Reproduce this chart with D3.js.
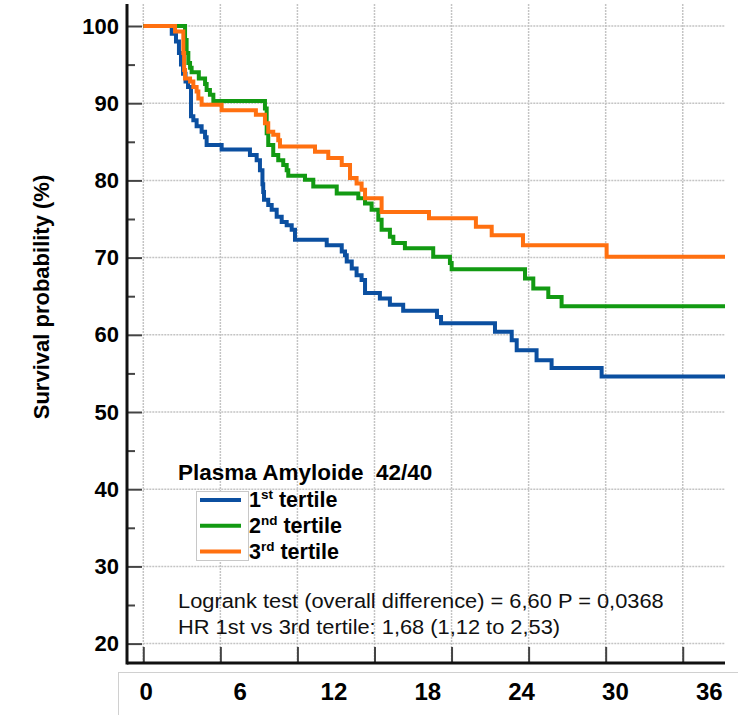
<!DOCTYPE html>
<html>
<head>
<meta charset="utf-8">
<script src="https://cdn.jsdelivr.net/npm/d3@7"></script>
<style>
  body { margin: 0; background: #fff; }
  svg { display: block; font-family: "Liberation Sans", Arial, sans-serif; }
</style>
</head>
<body>
<svg width="738" height="715"></svg>
<script>
// Kaplan-Meier curves, [month, survival %] at each step
var tertile1 = [[0,100],[1.82,99.0],[2.09,98.0],[2.28,96.5],[2.41,95.0],[2.54,93.8],[2.7,92.8],[2.86,92.1],
  [3.05,88.3],[3.20,87.8],[3.41,87.0],[3.73,86.3],[3.95,85.6],[4.05,84.6],[5.01,84.0],[6.82,83.3],
  [7.25,82.6],[7.46,81.3],[7.62,79.5],[7.67,78.5],[7.72,77.5],[7.99,76.8],[8.21,76.2],[8.53,75.3],
  [8.85,74.6],[9.17,74.2],[9.49,73.6],[9.70,72.3],[11.73,71.6],[12.69,70.8],[12.90,70.3],[13.01,69.5],
  [13.33,68.6],[13.64,67.7],[13.96,67.1],[14.18,65.4],[15.13,64.7],[15.77,63.9],[16.62,63.1],
  [18.78,62.3],[19.04,61.5],[22.49,60.4],[23.56,59.3],[23.88,58.0],[25.15,56.7],[26.11,55.7],[29.31,54.6]];

var tertile2 = [[0,100],[2.67,98.2],[2.77,96.5],[2.88,95.2],[2.99,94.6],[3.09,94.0],[3.55,93.2],[3.95,92.5],
  [4.05,91.7],[4.26,91.1],[4.48,90.3],[7.78,89.3],[7.89,86.1],[7.99,84.6],[8.31,83.3],[8.63,82.6],
  [8.95,82.0],[9.17,81.3],[9.27,80.6],[10.34,80.1],[10.87,79.2],[12.37,78.3],[13.75,77.7],[14.18,77.0],
  [14.60,76.2],[15.03,74.9],[15.24,73.6],[15.77,72.7],[15.99,71.9],[16.73,71.2],[18.54,70.1],
  [19.61,69.3],[19.72,68.5],[24.41,67.3],[24.94,66.0],[25.90,64.9],[26.75,63.7]];

var tertile3 = [[0,100],[2.03,99.3],[2.56,96.5],[2.61,94.3],[2.67,93.2],[2.99,92.8],[3.20,92.1],[3.41,91.5],
  [3.52,90.6],[3.73,89.8],[5.01,89.1],[7.20,88.5],[7.78,87.4],[7.99,86.3],[8.31,85.9],[8.63,85.2],
  [8.74,84.4],[10.98,83.7],[11.83,82.9],[12.69,82.0],[13.22,80.3],[13.64,79.6],[13.96,78.8],[14.18,77.7],
  [15.24,75.9],[18.27,75.1],[21.27,74.0],[22.28,72.9],[24.28,71.6],[29.63,70.1]];

var seriesNames = ["1st tertile", "2nd tertile", "3rd tertile"];
var seriesColors = ["#0b4fa0", "#129a12", "#ff7010"];
var seriesData = [tertile1, tertile2, tertile3];

var yTicks = [20, 30, 40, 50, 60, 70, 80, 90, 100];
var yMinorTicks = [25, 35, 45, 55, 65, 75, 85, 95];
var monthLabels = [0, 6, 12, 18, 24, 30, 36];
var xMax = 37.2;
// the original axis was in days with a tick every 150 days
var gridStep = 150 / 30.4375;

var legendTitle = "Plasma Amyloide\u00a0\u00a042/40";
var statsText = ["Logrank test (overall difference) = 6,60 P = 0,0368",
                 "HR 1st vs 3rd tertile: 1,68 (1,12 to 2,53)"];

var svg = d3.select("svg");
svg.append("rect").attr("width", 738).attr("height", 715).attr("fill", "#fff");

var x = d3.scaleLinear().domain([0, xMax]).range([143.3, 725]);
var y = d3.scaleLinear().domain([20, 100]).range([643.6, 26]);
var axisX = 127, axisY = 663;

// gridlines
var grid = svg.append("g").attr("stroke", "#c4c4c4").attr("stroke-width", 1.5).attr("stroke-dasharray", "2,1");
grid.selectAll(".gx").data(d3.range(0, xMax - 1, gridStep)).enter().append("line")
    .attr("x1", function(d) { return x(d); }).attr("x2", function(d) { return x(d); })
    .attr("y1", 4).attr("y2", axisY);
grid.selectAll(".gy").data(yTicks).enter().append("line")
    .attr("x1", x(0)).attr("x2", x(xMax))
    .attr("y1", function(d) { return y(d); }).attr("y2", function(d) { return y(d); });

// y axis, ticks pointing into the plot
var yAxis = svg.append("g")
    .attr("transform", "translate(" + axisX + ",0)")
    .call(d3.axisLeft(y).tickValues(yTicks).tickSizeInner(-15).tickSizeOuter(0).tickPadding(8));
yAxis.select(".domain").remove();
yAxis.selectAll(".tick line").attr("stroke", "#444").attr("stroke-width", 2);
yAxis.selectAll(".tick text").attr("font-size", 22).attr("font-weight", "bold").attr("fill", "#000")
    .attr("font-family", "'Liberation Sans', Arial, sans-serif");

var yMinor = svg.append("g")
    .attr("transform", "translate(" + axisX + ",0)")
    .call(d3.axisLeft(y).tickValues(yMinorTicks).tickSizeInner(-8).tickSizeOuter(0).tickFormat(""));
yMinor.select(".domain").remove();
yMinor.selectAll(".tick line").attr("stroke", "#444").attr("stroke-width", 2);

// x axis ticks pointing up
var xAxis = svg.append("g")
    .attr("transform", "translate(0," + axisY + ")")
    .call(d3.axisBottom(x).tickValues(d3.range(0, xMax - 1, gridStep)).tickSizeInner(-16).tickSizeOuter(0).tickFormat(""));
xAxis.select(".domain").remove();
xAxis.selectAll(".tick line").attr("stroke", "#444").attr("stroke-width", 2);

svg.append("line").attr("x1", axisX).attr("x2", axisX).attr("y1", 4).attr("y2", axisY + 1.5)
    .attr("stroke", "#111").attr("stroke-width", 3);
svg.append("line").attr("x1", axisX).attr("x2", x(xMax)).attr("y1", axisY).attr("y2", axisY)
    .attr("stroke", "#111").attr("stroke-width", 3);

// y title
svg.append("text")
    .attr("transform", "translate(49,297) rotate(-90)")
    .attr("text-anchor", "middle")
    .attr("font-size", 22).attr("font-weight", "bold")
    .text("Survival probability (%)");

// month labels strip
svg.append("rect").attr("x", 118.5).attr("y", 672.5).attr("width", 640).attr("height", 60)
    .attr("fill", "#fff").attr("stroke", "#d0d0d0");
svg.append("g").selectAll("text").data(monthLabels).enter().append("text")
    .attr("x", function(d) { return x(d) + 3; })
    .attr("y", 700)
    .attr("text-anchor", "middle")
    .attr("font-size", 24).attr("font-weight", "bold")
    .text(function(d) { return d; });

// curves
var line = d3.line()
    .x(function(d) { return x(d[0]); })
    .y(function(d) { return y(d[1]); })
    .curve(d3.curveStepAfter);

seriesData.forEach(function(s, i) {
  var pts = s.concat([[xMax, s[s.length - 1][1]]]);
  svg.append("path")
      .datum(pts)
      .attr("fill", "none")
      .attr("stroke", seriesColors[i])
      .attr("stroke-width", 4)
      .attr("d", line);
});

// legend
svg.append("text").attr("x", 178).attr("y", 480)
    .attr("font-size", 22.5).attr("font-weight", "bold")
    .text(legendTitle);

svg.append("rect").attr("x", 196.5).attr("y", 491.5).attr("width", 52).attr("height", 69)
    .attr("fill", "#fff").attr("stroke", "#c8c8c8");

var legend = svg.append("g").selectAll("g").data(seriesNames).enter().append("g")
    .attr("transform", function(d, i) { return "translate(0," + (500 + i * 25.8) + ")"; });
legend.append("line").attr("x1", 200).attr("x2", 241).attr("y1", 0).attr("y2", 0)
    .attr("stroke", function(d, i) { return seriesColors[i]; }).attr("stroke-width", 4);
var lt = legend.append("text").attr("x", 249).attr("y", 7)
    .attr("font-size", 21.5).attr("font-weight", "bold");
lt.append("tspan").text(function(d) { return d.match(/^\d+/)[0]; });
lt.append("tspan").attr("font-size", 13.5).attr("dy", -8)
    .text(function(d) { return d.match(/^\d+(\D+?) /)[1]; });
lt.append("tspan").attr("dy", 8)
    .text(function(d) { return d.replace(/^\S+/, ""); });

// statistics, a bit wider than the font's natural width
svg.append("g").selectAll("text").data(statsText).enter().append("text")
    .attr("transform", function(d, i) { return "translate(178," + (608 + i * 26) + ") scale(1.12,1)"; })
    .attr("font-size", 19.5)
    .attr("fill", "#111")
    .text(function(d) { return d; });
</script>
</body>
</html>
